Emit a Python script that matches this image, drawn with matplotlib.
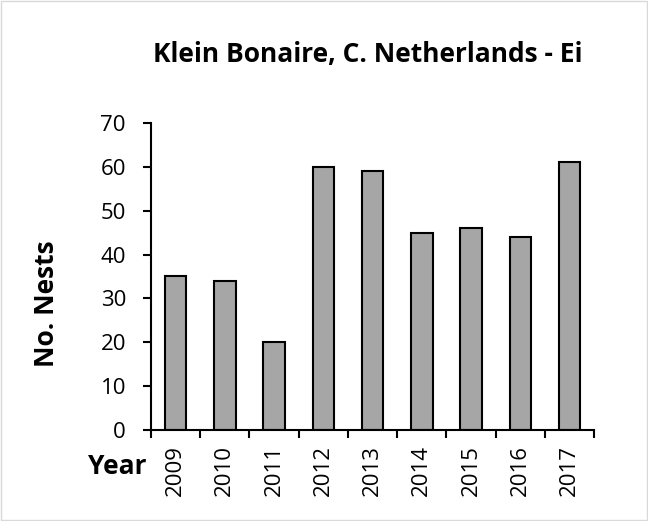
import numpy as np
from matplotlib import pyplot as plt
from matplotlib.patches import Rectangle

years = ["2009", "2010", "2011", "2012", "2013", "2014", "2015", "2016", "2017"]
nests = [35, 34, 20, 60, 59, 45, 46, 44, 61]

plt.rcParams['font.family'] = ['Open Sans', 'DejaVu Sans']


def main():
    fig = plt.figure(figsize=(6.48, 5.21), dpi=100)
    ax = fig.add_axes([0.233, 0.1747, 0.684, 0.5893])

    x = np.arange(len(years))
    ax.bar(x, nests, width=0.44, color="#a6a6a6", edgecolor="black", linewidth=1.5)

    ax.set_xlim(-0.5, len(years) - 0.5)
    ax.set_ylim(0, 70)
    ax.set_yticks(range(0, 71, 10))
    ax.tick_params(axis='y', labelsize=16, length=6, width=1.5, direction='out', pad=12)

    # category boundary ticks on x
    ax.set_xticks(np.arange(-0.5, len(years), 1.0))
    ax.set_xticklabels([])
    ax.set_xticks(x, minor=True)
    ax.set_xticklabels(years, minor=True, rotation=90, fontsize=16)
    ax.tick_params(axis='x', which='major', length=6, width=1.5, direction='out')
    ax.tick_params(axis='x', which='minor', length=0, pad=11)

    for side in ["top", "right"]:
        ax.spines[side].set_visible(False)
    for side in ["left", "bottom"]:
        ax.spines[side].set_linewidth(1.5)

    fig.text(0.071, 0.418, "No. Nests", fontsize=19, fontweight='bold', rotation=90,
             ha='center', va='center')
    fig.text(0.181, 0.104, "Year", fontsize=19, fontweight='bold', ha='center', va='center')
    fig.text(0.568, 0.896, "Klein Bonaire, C. Netherlands - Ei", fontsize=19,
             fontweight='bold', ha='center', va='center')

    fig.patches.append(Rectangle((0.002, 0.002), 0.996, 0.996, transform=fig.transFigure,
                                 fill=False, edgecolor="#d9d9d9", linewidth=1))

    fig.savefig("out.png", dpi=100)


if __name__ == '__main__':
    main()
